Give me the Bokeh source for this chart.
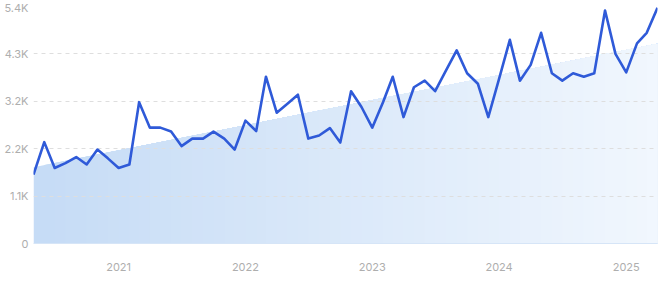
import numpy as np
import pandas as pd
from bokeh.plotting import figure
from bokeh.models import ColumnDataSource, Range1d, FixedTicker, DatetimeTickFormatter
from bokeh.embed import file_html
from bokeh.resources import INLINE

# ---- data ----
months = pd.date_range("2020-05-01", "2025-04-01", freq="MS")
values = [
    1570, 2310, 1720, 1830, 1970, 1800, 2140, 1940,                      # 2020 May-Dec
    1720, 1800, 3220, 2640, 2640, 2550, 2220, 2390, 2390, 2550, 2390, 2140,  # 2021
    2800, 2560, 3800, 2980, 3180, 3390, 2390, 2460, 2630, 2300, 3470, 3110,  # 2022
    2640, 3220, 3800, 2880, 3560, 3710, 3470, 3940, 4400, 3880, 3640, 2880,  # 2023
    3750, 4640, 3710, 4070, 4800, 3880, 3710, 3880, 3800, 3880, 5310, 4320,  # 2024
    3900, 4560, 4800, 5370,                                              # 2025 Jan-Apr
]
trend_start, trend_end = 1740, 4550
y_ticks = [0, 1080, 2160, 3240, 4320, 5400]
y_tick_labels = ["0", "1.1K", "2.2K", "3.2K", "4.3K", "5.4K"]
x_tick_years = [2021, 2022, 2023, 2024, 2025]

# ---- figure ----
p = figure(width=660, height=281, x_axis_type="datetime",
           output_backend="svg", toolbar_location=None,
           x_range=Range1d(months[0], months[-1]), y_range=Range1d(0, 5400),
           min_border_left=33, min_border_right=3, min_border_top=6, min_border_bottom=38)
p.outline_line_color = None
p.background_fill_color = "white"
p.border_fill_color = "white"

# trend area with horizontal gradient (layered strips)
n = len(months)
trend = np.linspace(trend_start, trend_end, n)
c0 = np.array([0xC6, 0xDC, 0xF6])
c1 = np.array([0xF1, 0xF7, 0xFE])
xs, ys, cols = [], [], []
for i in range(n - 1):
    xs.append([months[i], months[i], months[-1], months[-1]])
    ys.append([0, trend[i], trend[-1], 0])
    t = i / (n - 2)
    c = (c0 + (c1 - c0) * t).astype(int)
    cols.append("#%02x%02x%02x" % tuple(c))
xs_ms = [[pd.Timestamp(v).value / 1e6 for v in row] for row in xs]
area = p.patches(xs=xs_ms, ys=ys, fill_color=cols, line_color=None)
area.level = "image"

src = ColumnDataSource(dict(x=months, y=values))
p.line("x", "y", source=src, line_color="#2f5ad8", line_width=2.6, line_join="round")

# axes
p.yaxis.ticker = FixedTicker(ticks=y_ticks)
p.yaxis.major_label_overrides = {t: l for t, l in zip(y_ticks, y_tick_labels)}
p.yaxis.axis_line_color = None
p.yaxis.major_label_standoff = 5

year_ticks = [pd.Timestamp(f"{y}-01-01").value / 1e6 for y in x_tick_years]
p.xaxis.ticker = FixedTicker(ticks=year_ticks)
p.xaxis.formatter = DatetimeTickFormatter(years="%Y", months="%Y", days="%Y")
p.xaxis.axis_line_color = "#d6e5f7"
p.xaxis.major_label_standoff = 19

for ax in (p.xaxis[0], p.yaxis[0]):
    ax.major_tick_line_color = None
    ax.minor_tick_line_color = None
    ax.major_tick_out = 0
    ax.major_tick_in = 0
    ax.minor_tick_out = 0
    ax.minor_tick_in = 0
    ax.major_label_text_font = "Inter"
    ax.major_label_text_font_size = "11px"
    ax.major_label_text_color = "#aeaeae"

p.xgrid.grid_line_color = None
p.ygrid.ticker = FixedTicker(ticks=y_ticks)
p.ygrid.grid_line_color = "#dedede"
p.ygrid.grid_line_dash = "4 4"
p.ygrid.grid_line_width = 1

open("out.html", "w").write(file_html(p, INLINE))
